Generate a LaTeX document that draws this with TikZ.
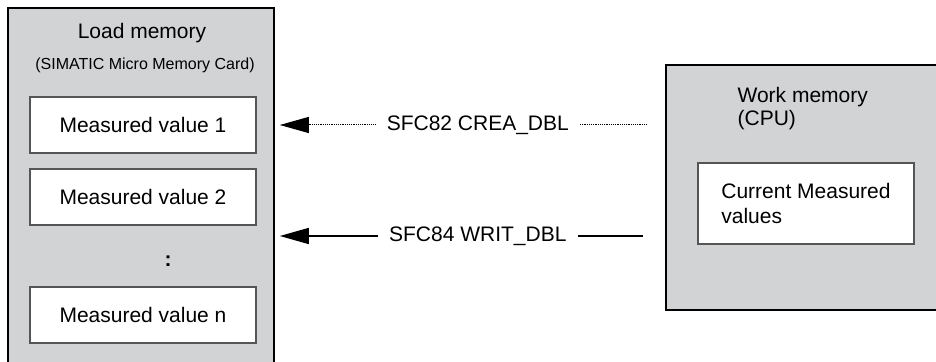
\documentclass[tikz,border=0pt]{standalone}
\usepackage{fontspec}
\setmainfont{Liberation Sans}
\usetikzlibrary{arrows.meta,positioning,calc}
\definecolor{ink}{HTML}{000000}
\definecolor{ink2}{HTML}{555555}
\definecolor{memgrey}{HTML}{D2D3D5}

\begin{document}
\begin{tikzpicture}[
  x=0.5pt, y=-0.5pt,
  font=\fontsize{10.5}{12.6}\selectfont, line width=0.6pt,
  mem/.style={draw=ink, line width=0.8pt, fill=memgrey, inner sep=0pt},
  cell/.style={draw=ink2, fill=white, minimum width=113pt, minimum height=28pt, inner sep=0pt, text=ink},
  sub/.style={font=\fontsize{8}{9.6}\selectfont, text=ink},
  lbl/.style={fill=white, inner xsep=5.5pt, inner ysep=1pt, text=ink},
  tip/.style={-{Triangle[length=14.5pt,width=8pt]}, draw=ink}]

\useasboundingbox (0,0) rectangle (936,362);
\clip (0,0) rectangle (936,362);

% left: load memory (runs off the bottom edge)
\node[mem, minimum width=133pt, minimum height=186pt] (load) at (141,194) {};
\node (loadt) at (142,33) {Load memory};
\node[sub] (loadsub) at (145,65) {(SIMATIC Micro Memory Card)};
\node[cell] (mv1) at (143,125) {Measured value 1};
\node[cell] (mv2) at (143,197) {Measured value 2};
\node (dots) at (168,261) {\textbf{:}};
\node[cell] (mvn) at (143,315) {Measured value n};

% right: work memory (runs off the right edge)
\node[mem, minimum width=142pt, minimum height=122.5pt] (work) at (808,187.5) {};
\node[align=left, anchor=west, inner sep=0pt] (workt) at (737,108.5) {Work memory\\[-1pt](CPU)};
\node[cell, minimum width=108pt, minimum height=40.5pt, align=left] (cur) at (806,203.5)
  {Current Measured\\values};

% system functions between the two memories
\coordinate (wr) at (0,236);
\draw[tip, line width=0.5pt, dash pattern=on 0.6pt off 0.5pt, shorten <=9pt, shorten >=2.5pt]
  (work.west |- mv1) -- node[lbl, pos=0.48] {SFC82 CREA\_DBL} (load.east |- mv1);
\draw[tip, line width=0.75pt, shorten <=11pt, shorten >=2.5pt]
  (work.west |- wr) -- node[lbl, pos=0.48] {SFC84 WRIT\_DBL} (load.east |- wr);
\end{tikzpicture}
\end{document}
